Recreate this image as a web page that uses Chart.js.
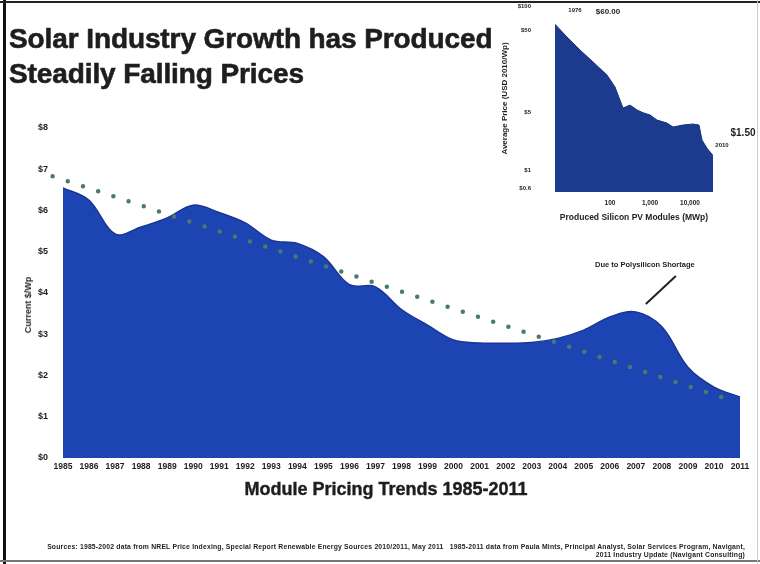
<!DOCTYPE html>
<html>
<head>
<meta charset="utf-8">
<script src="https://cdn.jsdelivr.net/npm/chart.js@4/dist/chart.umd.min.js"></script>
<style>
  html, body { margin: 0; padding: 0; background: #fff; }
  #page { position: relative; width: 760px; height: 564px; overflow: hidden; background: #fff;
          font-family: "Liberation Sans", Arial, sans-serif; color: #1e1e1e; }
  #main { position: absolute; left: 0; top: 0; }
  #inset { position: absolute; left: 500px; top: 0; }
  .frameL { position: absolute; left: 3px; top: 0; width: 3px; height: 564px; background: #111; }
  .frameT { position: absolute; left: 0; top: 1px; width: 760px; height: 2px; background: #222; }
  .frameB { position: absolute; left: 0; top: 560px; width: 760px; height: 2px; background: #777; }
  .frameR { position: absolute; left: 757px; top: 0; width: 1px; height: 564px; background: #ccc; }
  #title { position: absolute; left: 9px; top: 21px; font-weight: bold; font-size: 28px;
           line-height: 35px; letter-spacing: -0.1px; white-space: nowrap;
           -webkit-text-stroke: 0.6px #1e1e1e; }
  #xtitle { position: absolute; left: 0; width: 772px; top: 479px; text-align: center;
            font-weight: bold; font-size: 18px; white-space: nowrap; -webkit-text-stroke: 0.4px #1e1e1e; }
  #ytitle { position: absolute; left: 28px; top: 305px; transform: translate(-50%, -50%) rotate(-90deg);
            font-weight: bold; font-size: 9px; white-space: nowrap; }
  #source { position: absolute; right: 15px; top: 543px; text-align: right; font-weight: bold;
            font-size: 6.8px; line-height: 7.5px; letter-spacing: 0.2px; white-space: nowrap; }
</style>
</head>
<body>
<div id="page">
  <canvas id="main" width="760" height="564"></canvas>
  <canvas id="inset" width="260" height="230"></canvas>
  <div id="title">Solar Industry Growth has Produced<br>Steadily Falling Prices</div>
  <div id="xtitle">Module Pricing Trends 1985-2011</div>
  <div id="ytitle">Current $/Wp</div>
  <div id="source">Sources: 1985-2002 data from NREL Price Indexing, Special Report Renewable Energy Sources 2010/2011, May 2011 &nbsp; 1985-2011 data from Paula Mints, Principal Analyst, Solar Services Program, Navigant,<br>2011 Industry Update (Navigant Consulting)</div>
  <div class="frameL"></div><div class="frameT"></div><div class="frameB"></div><div class="frameR"></div>
</div>
<script>
// Module price history, current $/Wp
const YEARS = [1985, 1986, 1987, 1988, 1989, 1990, 1991, 1992, 1993, 1994, 1995, 1996, 1997, 1998,
               1999, 2000, 2001, 2002, 2003, 2004, 2005, 2006, 2007, 2008, 2009, 2010, 2011];
const PRICES = [6.55, 6.25, 5.43, 5.60, 5.82, 6.13, 5.95, 5.70, 5.28, 5.20, 4.88, 4.20, 4.15, 3.60,
                3.22, 2.86, 2.79, 2.78, 2.80, 2.90, 3.10, 3.42, 3.54, 3.18, 2.20, 1.72, 1.48];
const PRICE_TICKS = [0, 1, 2, 3, 4, 5, 6, 7, 8];

// Straight trend through the price history (start and end of the dotted line)
const TREND_YEARS = [1984.6, 2010.6];
const TREND_PRICES = [6.83, 1.41];

const SHORTAGE_YEAR = 2007;
const SHORTAGE_NOTE = 'Due to Polysilicon Shortage';

// Experience curve: cumulative produced modules (MWp) vs average price (USD 2010/Wp)
const INSET_MW = [4.2, 8.4, 17.8, 37.6, 84, 133, 178, 211, 316, 473, 668, 1000, 1496, 2661,
                  3758, 6683, 11885, 16788, 19953, 26607, 37584];
const INSET_PRICE = [60.0, 41.9, 29.1, 20.8, 14.4, 10.3, 7.1, 5.7, 6.2, 5.4, 5.0, 4.7, 4.07, 3.74,
                     3.35, 3.54, 3.64, 3.54, 2.32, 1.85, 1.50];
const INSET_PRICE_TICKS = [100, 50, 5, 1, 0.6];
const INSET_MW_TICKS = [100, 1000, 10000];
const INSET_MW_LABELS = ['100', '1,000', '10,000'];
const INSET_FIRST_YEAR = '1976';
const INSET_LAST_YEAR = '2010';

const INK = '#1e1e1e';
const FONT = '"Liberation Sans", Arial, sans-serif';

// keep tick-label padding from pushing the plot area inwards
const noEdgePadding = (s) => { s.paddingTop = 0; s.paddingBottom = 0; };

const shortageNote = {
  id: 'shortageNote',
  afterDatasetsDraw(chart) {
    const { ctx, scales: { x, y } } = chart;
    const i = YEARS.indexOf(SHORTAGE_YEAR);
    const px = x.getPixelForValue(SHORTAGE_YEAR);
    const py = y.getPixelForValue(PRICES[i]);
    ctx.save();
    ctx.strokeStyle = '#222';
    ctx.lineWidth = 2;
    ctx.beginPath();
    ctx.moveTo(px + 10, py - 8);
    ctx.lineTo(px + 40, py - 36);
    ctx.stroke();
    ctx.fillStyle = INK;
    ctx.font = 'bold 7.5px ' + FONT;
    ctx.textAlign = 'center';
    ctx.textBaseline = 'middle';
    ctx.fillText(SHORTAGE_NOTE, px + 9, py - 47);
    ctx.restore();
  }
};

new Chart(document.getElementById('main'), {
  type: 'line',
  data: {
    datasets: [
      {
        data: TREND_YEARS.map((yr, i) => ({ x: yr, y: TREND_PRICES[i] })),
        borderColor: '#4a7a6b',
        borderWidth: 4.5,
        borderDash: [0, 16],
        borderCapStyle: 'round',
        pointRadius: 0,
        fill: false,
        clip: false
      },
      {
        data: YEARS.map((yr, i) => ({ x: yr, y: PRICES[i] })),
        borderColor: '#1a3594',
        borderWidth: 1.5,
        backgroundColor: '#1d44b3',
        fill: 'origin',
        tension: 0.35,
        pointRadius: 0
      }
    ]
  },
  options: {
    responsive: false,
    animation: false,
    devicePixelRatio: 1,
    layout: { padding: { left: 0, right: 20, top: 128, bottom: 86 } },
    plugins: { legend: { display: false }, tooltip: { enabled: false } },
    scales: {
      x: {
        type: 'linear',
        min: YEARS[0],
        max: YEARS[YEARS.length - 1],
        grid: { display: false, drawTicks: false },
        border: { display: false },
        afterBuildTicks: (s) => { s.ticks = YEARS.map(v => ({ value: v })); },
        afterFit: (s) => { s.height = 20; },
        ticks: {
          autoSkip: false, maxRotation: 0, minRotation: 0, padding: 4,
          color: INK, font: { family: FONT, size: 8.5, weight: 'bold' },
          callback: (v) => String(v)
        }
      },
      y: {
        min: 0,
        max: 8,
        grid: { display: false, drawTicks: false },
        border: { display: false },
        afterBuildTicks: (s) => { s.ticks = PRICE_TICKS.map(v => ({ value: v })); },
        afterFit: (s) => { s.width = 63; noEdgePadding(s); },
        ticks: {
          padding: 15, color: INK, font: { family: FONT, size: 9, weight: 'bold' },
          callback: (v) => '$' + v
        }
      }
    }
  },
  plugins: [shortageNote]
});

const insetNotes = {
  id: 'insetNotes',
  afterDatasetsDraw(chart) {
    const { ctx, scales: { x, y } } = chart;
    const n = INSET_MW.length - 1;
    const x0 = x.getPixelForValue(INSET_MW[0]);
    const y0 = y.getPixelForValue(INSET_PRICE[0]);
    const x1 = x.getPixelForValue(INSET_MW[n]);
    const y1 = y.getPixelForValue(INSET_PRICE[n]);
    ctx.save();
    ctx.fillStyle = INK;
    ctx.textBaseline = 'middle';
    ctx.textAlign = 'center';
    ctx.font = 'bold 6px ' + FONT;
    ctx.fillText(INSET_FIRST_YEAR, x0 + 20, y0 - 14);
    ctx.font = 'bold 8px ' + FONT;
    ctx.fillText('$' + INSET_PRICE[0].toFixed(2), x0 + 53, y0 - 12);
    ctx.font = 'bold 6px ' + FONT;
    ctx.fillText(INSET_LAST_YEAR, x1 + 9, y1 - 10);
    ctx.font = 'bold 10px ' + FONT;
    ctx.fillText('$' + INSET_PRICE[n].toFixed(2), x1 + 30, y1 - 22);
    ctx.restore();
  }
};

new Chart(document.getElementById('inset'), {
  type: 'line',
  data: {
    datasets: [{
      data: INSET_MW.map((mw, i) => ({ x: mw, y: INSET_PRICE[i] })),
      borderColor: '#183480',
      borderWidth: 1,
      backgroundColor: '#1c3a8e',
      fill: 'start',
      tension: 0,
      pointRadius: 0
    }]
  },
  options: {
    responsive: false,
    animation: false,
    devicePixelRatio: 1,
    layout: { padding: { left: 0, right: 47, top: 5, bottom: 0 } },
    plugins: { legend: { display: false }, tooltip: { enabled: false } },
    scales: {
      x: {
        type: 'logarithmic',
        bounds: 'data',
        min: INSET_MW[0],
        max: INSET_MW[INSET_MW.length - 1],
        grid: { display: false, drawTicks: false },
        border: { display: false },
        afterBuildTicks: (s) => { s.ticks = INSET_MW_TICKS.map(v => ({ value: v })); },
        afterFit: (s) => { s.height = 38; },
        ticks: {
          autoSkip: false, maxRotation: 0, padding: 7, color: INK,
          font: { family: FONT, size: 6.5, weight: 'bold' },
          callback: (v) => INSET_MW_LABELS[INSET_MW_TICKS.indexOf(v)]
        },
        title: {
          display: true, text: 'Produced Silicon PV Modules (MWp)', color: INK,
          font: { family: FONT, size: 8.5, weight: 'bold' }, padding: { top: 0, bottom: 7 }
        }
      },
      y: {
        type: 'logarithmic',
        bounds: 'data',
        min: 0.54,
        max: 103,
        grid: { display: false, drawTicks: false },
        border: { display: false },
        afterBuildTicks: (s) => { s.ticks = INSET_PRICE_TICKS.map(v => ({ value: v })); },
        afterFit: (s) => { s.width = 55; noEdgePadding(s); },
        ticks: {
          padding: 24, color: INK, font: { family: FONT, size: 6, weight: 'bold' },
          callback: (v) => '$' + v
        },
        title: {
          display: true, text: 'Average Price (USD 2010/Wp)', color: INK,
          font: { family: FONT, size: 8, weight: 'bold' }, padding: { top: 0, bottom: 0 }
        }
      }
    }
  },
  plugins: [insetNotes]
});
</script>
</body>
</html>
